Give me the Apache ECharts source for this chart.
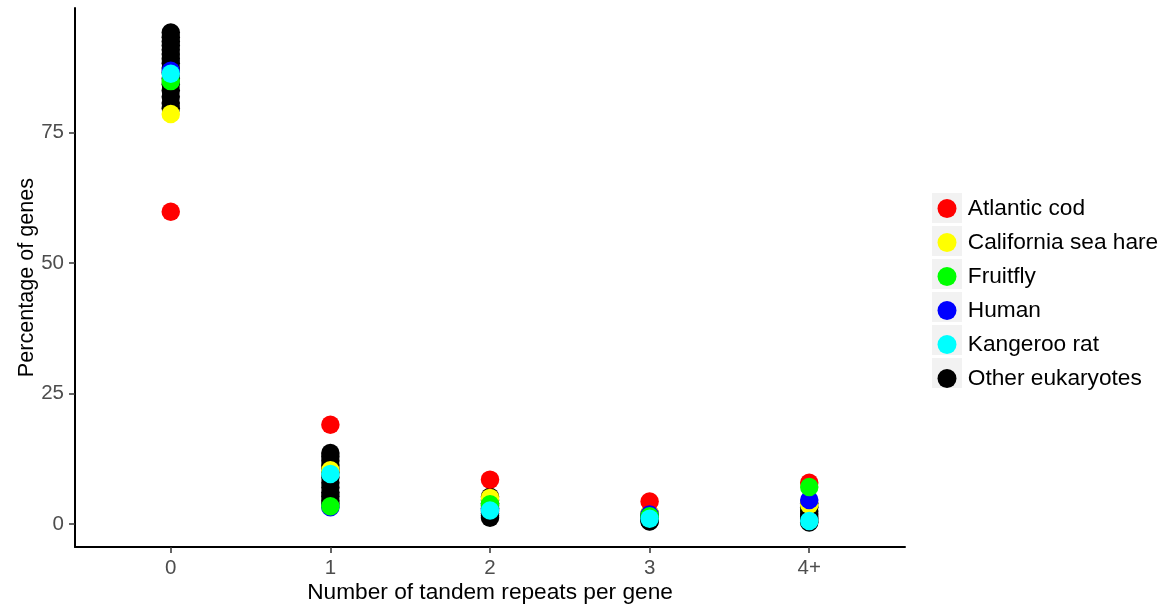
<!DOCTYPE html>
<html>
<head>
<meta charset="utf-8">
<script src="https://cdn.jsdelivr.net/npm/echarts@6/dist/echarts.min.js"></script>
<style>
  html, body { margin: 0; padding: 0; background: #ffffff; }
  #chart { width: 1165px; height: 609px; }
</style>
</head>
<body>
<div id="chart"></div>
<script>
// Number of tandem repeats per gene (x categories)
const categories = ['0', '1', '2', '3', '4+'];

// Percentage of genes per repeat class, one value per category
const atlanticCod = [59.8, 19.0, 8.5, 4.3, 7.9];
const californiaSeaHare = [78.5, 10.3, 5.0, 2.1, 3.7];
const fruitfly = [84.8, 3.4, 3.8, 1.5, 7.1];
const human = [86.8, 3.2, 2.8, 1.8, 4.6];
const kangerooRat = [86.2, 9.6, 2.6, 1.0, 0.6];

// Other eukaryotes: several genomes per category
const otherAt0 = [94.1, 93.2, 92.4, 91.6, 90.8, 90.0, 89.1, 88.2, 87.3, 86.4, 85.3, 84.2, 83.0, 81.8, 80.6, 79.6];
const otherAt1 = [13.6, 12.9, 12.1, 11.3, 10.6, 9.9, 8.9, 7.9, 7.0, 6.1, 5.3, 4.5, 3.9];
const otherAt2 = [5.2, 4.6, 4.0, 3.5, 3.0, 2.5, 2.0, 1.6, 1.2];
const otherAt3 = [2.0, 1.7, 1.4, 1.1, 0.8, 0.6, 0.5];
const otherAt4 = [4.0, 3.2, 2.5, 1.9, 1.4, 1.0, 0.6, 0.3];

const yTicks = [0, 25, 50, 75];

const FONT = '"Liberation Sans", Arial, Helvetica, sans-serif';

function pointsFrom(values) {
  return values.map((v, i) => [i, v]);
}
function pointsFromGroups(groups) {
  const out = [];
  groups.forEach((vals, i) => vals.forEach(v => out.push([i, v])));
  return out;
}

const legendNames = ['Atlantic cod', 'California sea hare', 'Fruitfly', 'Human', 'Kangeroo rat', 'Other eukaryotes'];

function scatter(name, color, data) {
  return {
    name: name,
    type: 'scatter',
    symbol: 'circle',
    symbolSize: 18.5,
    itemStyle: { color: color, opacity: 1 },
    emphasis: { disabled: true },
    data: data
  };
}

// drawing order: other genomes underneath, highlighted species on top
const series = [
  scatter('Other eukaryotes', '#000000', pointsFromGroups([otherAt0, otherAt1, otherAt2, otherAt3, otherAt4])),
  scatter('California sea hare', '#ffff00', pointsFrom(californiaSeaHare)),
  scatter('Atlantic cod', '#ff0000', pointsFrom(atlanticCod)),
  scatter('Human', '#0000ff', pointsFrom(human)),
  scatter('Fruitfly', '#00ff00', pointsFrom(fruitfly)),
  scatter('Kangeroo rat', '#00ffff', pointsFrom(kangerooRat))
];

const chart = echarts.init(document.getElementById('chart'), null, { renderer: 'canvas' });

chart.setOption({
  backgroundColor: '#ffffff',
  animation: false,
  textStyle: { fontFamily: FONT },
  grid: { left: 75, right: 260, top: 8, bottom: 62, containLabel: false, outerBoundsMode: 'none' },
  xAxis: {
    type: 'value',
    min: -0.6,
    max: 4.6,
    name: 'Number of tandem repeats per gene',
    nameLocation: 'middle',
    nameGap: 34,
    nameMoveOverlap: false,
    nameTextStyle: { color: '#000000', fontSize: 22.7, fontFamily: FONT, verticalAlign: 'top' },
    axisLine: { show: true, onZero: false, lineStyle: { color: '#000000', width: 2 } },
    axisTick: { show: true, length: 6, customValues: [0, 1, 2, 3, 4], lineStyle: { color: '#333333', width: 1.5 } },
    axisLabel: {
      show: true,
      customValues: [0, 1, 2, 3, 4],
      formatter: v => categories[Math.round(v)],
      color: '#4d4d4d',
      fontSize: 20.5,
      fontFamily: FONT,
      margin: 11
    },
    splitLine: { show: false }
  },
  yAxis: {
    type: 'value',
    min: -4.4,
    max: 98.8,
    name: 'Percentage of genes',
    nameLocation: 'middle',
    nameGap: 37,
    nameMoveOverlap: false,
    nameRotate: 90,
    nameTextStyle: { color: '#000000', fontSize: 21.6, fontFamily: FONT },
    axisLine: { show: true, onZero: false, lineStyle: { color: '#000000', width: 2 } },
    axisTick: { show: true, length: 6, customValues: yTicks, lineStyle: { color: '#333333', width: 1.5 } },
    axisLabel: {
      show: true,
      customValues: yTicks,
      color: '#4d4d4d',
      fontSize: 20.5,
      fontFamily: FONT,
      margin: 11
    },
    splitLine: { show: false }
  },
  legend: [
    {
      // grey key backgrounds
      data: legendNames,
      orient: 'vertical',
      left: 932,
      top: 193,
      padding: 0,
      icon: 'rect',
      itemWidth: 30,
      itemHeight: 30,
      itemGap: 3,
      selectedMode: false,
      z: 3,
      itemStyle: { color: '#f2f2f2', borderWidth: 0 },
      textStyle: { color: 'rgba(0,0,0,0)', fontSize: 10 }
    },
    {
      data: legendNames,
      orient: 'vertical',
      left: 937.5,
      top: 197,
      padding: 0,
      icon: 'circle',
      itemWidth: 19,
      itemHeight: 19,
      itemGap: 11,
      selectedMode: false,
      z: 5,
      formatter: name => ' ' + name,
      textStyle: { color: '#000000', fontSize: 22.7, fontFamily: FONT }
    }
  ],
  series: series
});
</script>
</body>
</html>
